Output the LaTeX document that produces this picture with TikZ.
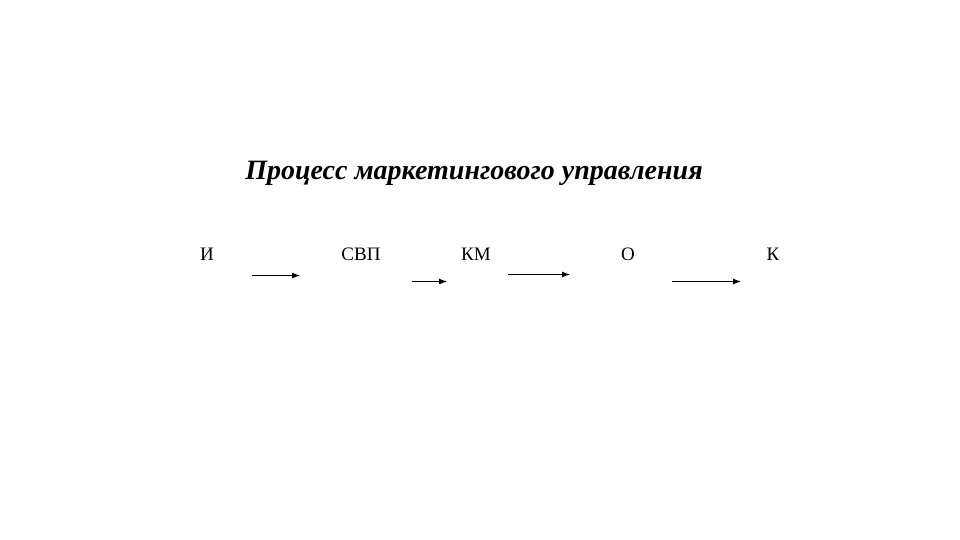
\documentclass[tikz,border=0pt]{standalone}
\usepackage{fontspec}
\setmainfont{Liberation Serif}
\usetikzlibrary{arrows.meta}
\begin{document}
\begin{tikzpicture}[x=1pt,y=-1pt,
  lbl/.style={font=\fontsize{19}{22}\selectfont, inner sep=0pt},
  ttl/.style={font=\fontsize{28}{32}\selectfont\bfseries\itshape, inner sep=0pt},
  arr/.style={-{Latex[length=8pt,width=6pt]}, line width=1pt}]
\useasboundingbox (0,0) rectangle (960,540);
\node[ttl] (title) at (474,173) {Процесс маркетингового управления};
\node[lbl] (i) at (207,254) {И};
\node[lbl] (svp) at (361,254) {СВП};
\node[lbl] (km) at (476,254) {КМ};
\node[lbl] (o) at (628,254) {О};
\node[lbl] (k) at (773,254) {К};
\coordinate (a1s) at (252,275.5);
\coordinate (a1e) at (300,275.5);
\coordinate (a2s) at (412,281.5);
\coordinate (a2e) at (447,281.5);
\coordinate (a3s) at (508,274.5);
\coordinate (a3e) at (570,274.5);
\coordinate (a4s) at (672,281.5);
\coordinate (a4e) at (741,281.5);
\draw[arr] (a1s) -- (a1e);
\draw[arr] (a2s) -- (a2e);
\draw[arr] (a3s) -- (a3e);
\draw[arr] (a4s) -- (a4e);
\end{tikzpicture}
\end{document}
